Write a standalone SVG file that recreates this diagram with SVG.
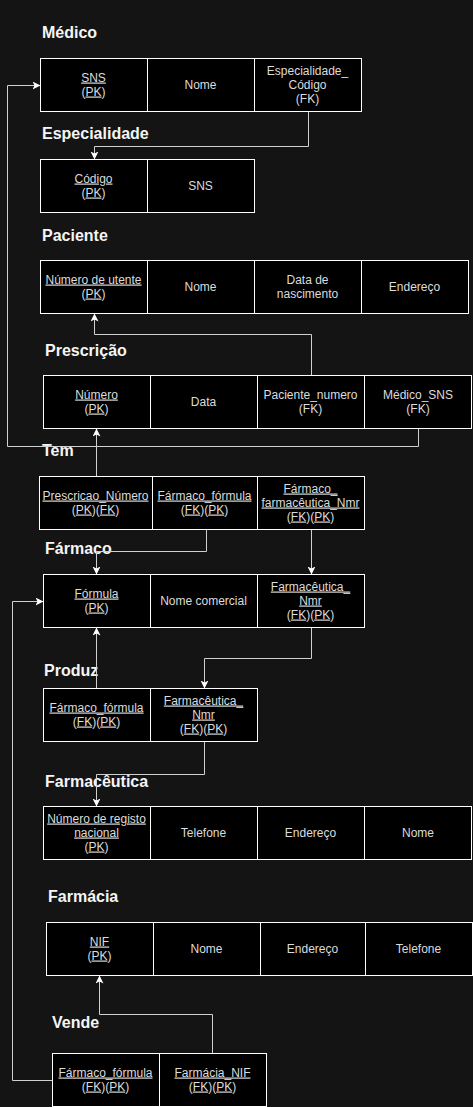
<svg xmlns="http://www.w3.org/2000/svg" width="473" height="1107" viewBox="0 0 473 1107">
<style>
.bg{fill:#141414}
.cell{fill:#000;stroke:#ffffff;stroke-width:1}
.t{font-family:"Liberation Sans",Arial,sans-serif;font-size:12px;fill:#dcdcdc;text-anchor:middle}
.u{text-decoration:underline}
.h{font-family:"Liberation Sans",Arial,sans-serif;font-size:16px;font-weight:bold;fill:#f5f5f5}
.e{fill:none;stroke:#d0d0d0;stroke-width:1}
</style>
<defs>
<marker id="ar" markerUnits="userSpaceOnUse" markerWidth="10" markerHeight="10" refX="8" refY="4" orient="auto">
<path d="M0,0 L8,4 L0,8 L2,4 z" fill="#ffffff"/>
</marker>
</defs>
<rect class="bg" x="0" y="0" width="473" height="1107"/>

<g id="titles">
<text class="h" x="42" y="38">Médico</text>
<text class="h" x="42" y="139">Especialidade</text>
<text class="h" x="42" y="241">Paciente</text>
<text class="h" x="45" y="356">Prescrição</text>
<text class="h" x="42" y="456">Tem</text>
<text class="h" x="45" y="554">Fármaco</text>
<text class="h" x="44" y="676">Produz</text>
<text class="h" x="45" y="787">Farmacêutica</text>
<text class="h" x="48" y="902">Farmácia</text>
<text class="h" x="52" y="1028">Vende</text>
</g>

<g id="connectors" transform="translate(0.5,0.5)">
<polyline class="e" points="308,111 308,146 94,146 94,159" marker-end="url(#ar)"/>
<polyline class="e" points="311,375 311,334 94,334 94,313" marker-end="url(#ar)"/>
<polyline class="e" points="418,428 418,446 7,446 7,85 40,85" marker-end="url(#ar)"/>
<polyline class="e" points="96,476 96,428" marker-end="url(#ar)"/>
<polyline class="e" points="206,529 206,551 96,551 96,574" marker-end="url(#ar)"/>
<polyline class="e" points="311,529 311,574" marker-end="url(#ar)"/>
<polyline class="e" points="96,688 96,627" marker-end="url(#ar)"/>
<polyline class="e" points="311,627 311,658 204,658 204,688" marker-end="url(#ar)"/>
<polyline class="e" points="204,741 204,774 96,774 96,806" marker-end="url(#ar)"/>
<polyline class="e" points="212,1053 212,1014 99,1014 99,975" marker-end="url(#ar)"/>
<polyline class="e" points="52,1080 12,1080 12,601 43,601" marker-end="url(#ar)"/>
</g>

<g id="medico">
<g transform="translate(0.5,0.5)">
<rect class="cell" x="40" y="58" width="107" height="53"/>
<rect class="cell" x="147" y="58" width="107" height="53"/>
<rect class="cell" x="254" y="58" width="107" height="53"/>
</g>
<text class="t" x="93.5" y="81.5"><tspan class="u">SNS</tspan></text>
<text class="t" x="93.5" y="95.5">(<tspan class="u">PK</tspan>)</text>
<text class="t" x="200.5" y="88.5">Nome</text>
<text class="t" x="307.5" y="74.5">Especialidade_</text>
<text class="t" x="307.5" y="88.5">Código</text>
<text class="t" x="307.5" y="102.5">(FK)</text>
</g>

<g id="especialidade">
<g transform="translate(0.5,0.5)">
<rect class="cell" x="40" y="159" width="107" height="53"/>
<rect class="cell" x="147" y="159" width="107" height="53"/>
</g>
<text class="t" x="93.5" y="182.5"><tspan class="u">Código</tspan></text>
<text class="t" x="93.5" y="196.5">(<tspan class="u">PK</tspan>)</text>
<text class="t" x="200.5" y="189.5">SNS</text>
</g>

<g id="paciente">
<g transform="translate(0.5,0.5)">
<rect class="cell" x="40" y="260" width="107" height="53"/>
<rect class="cell" x="147" y="260" width="107" height="53"/>
<rect class="cell" x="254" y="260" width="107" height="53"/>
<rect class="cell" x="361" y="260" width="107" height="53"/>
</g>
<text class="t" x="93.5" y="283.5"><tspan class="u">Número de utente</tspan></text>
<text class="t" x="93.5" y="297.5">(<tspan class="u">PK</tspan>)</text>
<text class="t" x="200.5" y="290.5">Nome</text>
<text class="t" x="307.5" y="283.5">Data de</text>
<text class="t" x="307.5" y="297.5">nascimento</text>
<text class="t" x="414.5" y="290.5">Endereço</text>
</g>

<g id="prescricao">
<g transform="translate(0.5,0.5)">
<rect class="cell" x="43" y="375" width="107" height="53"/>
<rect class="cell" x="150" y="375" width="107" height="53"/>
<rect class="cell" x="257" y="375" width="107" height="53"/>
<rect class="cell" x="364" y="375" width="107" height="53"/>
</g>
<text class="t" x="96.5" y="398.5"><tspan class="u">Número</tspan></text>
<text class="t" x="96.5" y="412.5">(<tspan class="u">PK</tspan>)</text>
<text class="t" x="203.5" y="405.5">Data</text>
<text class="t" x="310.5" y="398.5">Paciente_numero</text>
<text class="t" x="310.5" y="412.5">(FK)</text>
<text class="t" x="418" y="398.5">Médico_SNS</text>
<text class="t" x="418" y="412.5">(FK)</text>
</g>

<g id="tem">
<g transform="translate(0.5,0.5)">
<rect class="cell" x="39" y="476" width="113" height="53"/>
<rect class="cell" x="152" y="476" width="105" height="53"/>
<rect class="cell" x="257" y="476" width="107" height="53"/>
</g>
<text class="t" x="95.5" y="499.5"><tspan class="u">Prescricao_Número</tspan></text>
<text class="t" x="95.5" y="513.5">(<tspan class="u">PK</tspan>)(<tspan class="u">FK</tspan>)</text>
<text class="t" x="204.5" y="499.5"><tspan class="u">Fármaco_fórmula</tspan></text>
<text class="t" x="204.5" y="513.5">(<tspan class="u">FK</tspan>)(<tspan class="u">PK</tspan>)</text>
<text class="t" x="310.5" y="492.5"><tspan class="u">Fármaco_</tspan></text>
<text class="t" x="310.5" y="506.5"><tspan class="u">farmacêutica_Nmr</tspan></text>
<text class="t" x="310.5" y="520.5">(<tspan class="u">FK</tspan>)(<tspan class="u">PK</tspan>)</text>
</g>

<g id="farmaco">
<g transform="translate(0.5,0.5)">
<rect class="cell" x="43" y="574" width="107" height="53"/>
<rect class="cell" x="150" y="574" width="107" height="53"/>
<rect class="cell" x="257" y="574" width="107" height="53"/>
</g>
<text class="t" x="96.5" y="597.5"><tspan class="u">Fórmula</tspan></text>
<text class="t" x="96.5" y="611.5">(<tspan class="u">PK</tspan>)</text>
<text class="t" x="203.5" y="604.5">Nome comercial</text>
<text class="t" x="310.5" y="590.5"><tspan class="u">Farmacêutica_</tspan></text>
<text class="t" x="310.5" y="604.5"><tspan class="u">Nmr</tspan></text>
<text class="t" x="310.5" y="618.5">(<tspan class="u">FK</tspan>)(<tspan class="u">PK</tspan>)</text>
</g>

<g id="produz">
<g transform="translate(0.5,0.5)">
<rect class="cell" x="43" y="688" width="107" height="53"/>
<rect class="cell" x="150" y="688" width="107" height="53"/>
</g>
<text class="t" x="96.5" y="711.5"><tspan class="u">Fármaco_fórmula</tspan></text>
<text class="t" x="96.5" y="725.5">(<tspan class="u">FK</tspan>)(<tspan class="u">PK</tspan>)</text>
<text class="t" x="203.5" y="704.5"><tspan class="u">Farmacêutica_</tspan></text>
<text class="t" x="203.5" y="718.5"><tspan class="u">Nmr</tspan></text>
<text class="t" x="203.5" y="732.5">(<tspan class="u">FK</tspan>)(<tspan class="u">PK</tspan>)</text>
</g>

<g id="farmaceutica">
<g transform="translate(0.5,0.5)">
<rect class="cell" x="43" y="806" width="107" height="53"/>
<rect class="cell" x="150" y="806" width="107" height="53"/>
<rect class="cell" x="257" y="806" width="107" height="53"/>
<rect class="cell" x="364" y="806" width="107" height="53"/>
</g>
<text class="t" x="96.5" y="822.5"><tspan class="u">Número de registo</tspan></text>
<text class="t" x="96.5" y="836.5"><tspan class="u">nacional</tspan></text>
<text class="t" x="96.5" y="850.5">(<tspan class="u">PK</tspan>)</text>
<text class="t" x="203.5" y="836.5">Telefone</text>
<text class="t" x="310.5" y="836.5">Endereço</text>
<text class="t" x="418" y="836.5">Nome</text>
</g>

<g id="farmacia">
<g transform="translate(0.5,0.5)">
<rect class="cell" x="46" y="922" width="107" height="53"/>
<rect class="cell" x="153" y="922" width="107" height="53"/>
<rect class="cell" x="260" y="922" width="105" height="53"/>
<rect class="cell" x="365" y="922" width="107" height="53"/>
</g>
<text class="t" x="99.5" y="945.5"><tspan class="u">NIF</tspan></text>
<text class="t" x="99.5" y="959.5">(<tspan class="u">PK</tspan>)</text>
<text class="t" x="206.5" y="952.5">Nome</text>
<text class="t" x="312.5" y="952.5">Endereço</text>
<text class="t" x="418.5" y="952.5">Telefone</text>
</g>

<g id="vende">
<g transform="translate(0.5,0.5)">
<rect class="cell" x="52" y="1053" width="107" height="53"/>
<rect class="cell" x="159" y="1053" width="107" height="53"/>
</g>
<text class="t" x="105.5" y="1076.5"><tspan class="u">Fármaco_fórmula</tspan></text>
<text class="t" x="105.5" y="1090.5">(<tspan class="u">FK</tspan>)(<tspan class="u">PK</tspan>)</text>
<text class="t" x="212.5" y="1076.5"><tspan class="u">Farmácia_NIF</tspan></text>
<text class="t" x="212.5" y="1090.5">(<tspan class="u">FK</tspan>)(<tspan class="u">PK</tspan>)</text>
</g>
</svg>
